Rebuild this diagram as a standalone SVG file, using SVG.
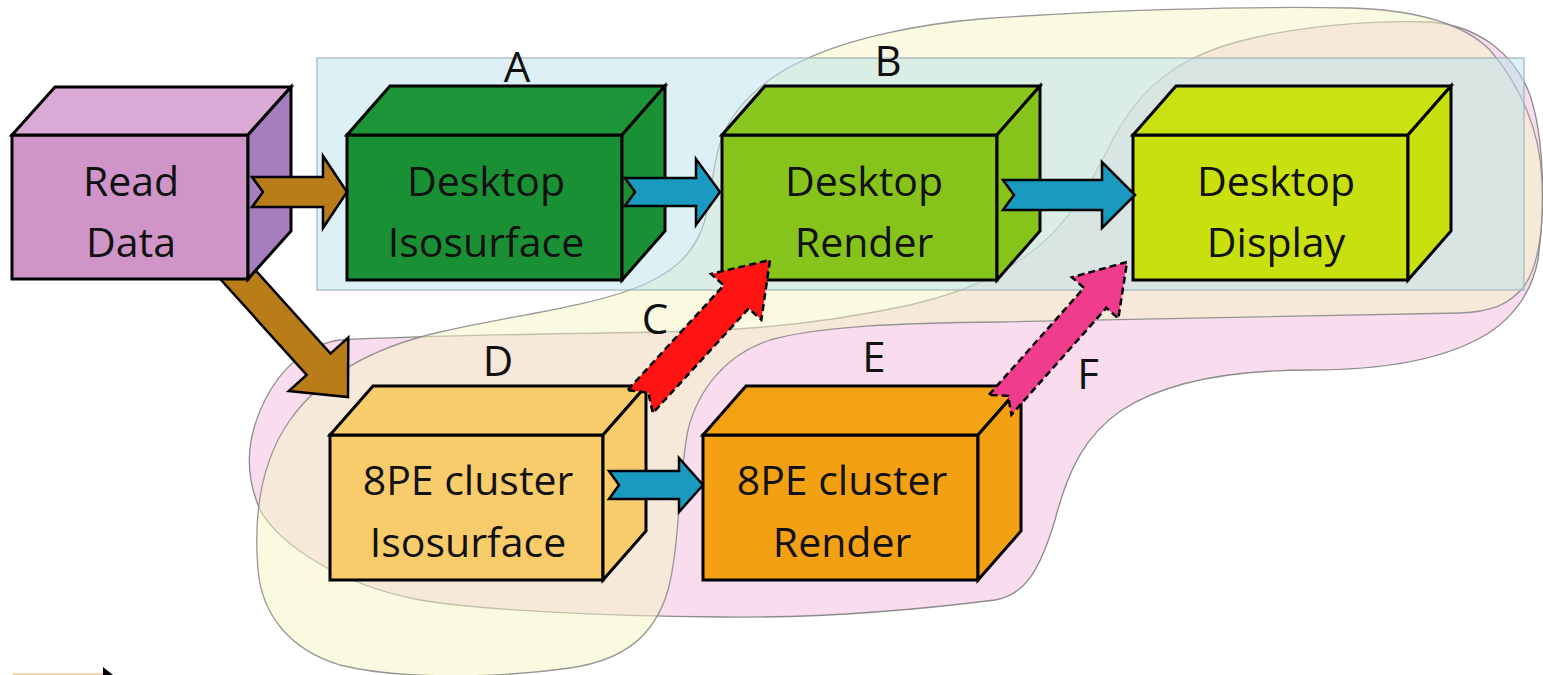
<svg xmlns="http://www.w3.org/2000/svg" width="1543" height="675" viewBox="0 0 1543 675">
<style>
.bx{stroke:#000;stroke-width:3;stroke-linejoin:miter}
.t{font-family:"Open Sans","Noto Sans","Liberation Sans",sans-serif;font-size:41px;fill:#111;text-anchor:middle}
.lb{font-family:"Open Sans","Noto Sans","Liberation Sans",sans-serif;font-size:42px;fill:#111;text-anchor:middle}
.blob{stroke:#8c8c8c;stroke-width:1.3}
.arr{stroke:#000;stroke-width:2.5;stroke-linejoin:miter}
.dash{stroke:#000;stroke-width:2.5;stroke-dasharray:7 4;stroke-linejoin:miter}
</style>
<rect x="0" y="0" width="1543" height="675" fill="#ffffff"/>
<g id="regions">
<path id="region-pink" class="blob" fill="#f9dcee" d="M340,340 C450,334 600,334 700,331 C780,328 850,318 910,305 C960,293 1000,278 1040,245 C1070,220 1090,185 1110,145 C1135,95 1170,60 1237,42 C1300,25 1380,20 1430,22 C1480,26 1515,55 1530,95 C1545,140 1545,210 1538,260 C1530,300 1505,325 1480,338 C1440,360 1380,370 1310,370 C1230,370 1165,382 1122,410 C1085,435 1068,470 1055,520 C1040,570 1025,595 995,600 C900,612 800,618 720,617 C600,616 480,610 420,600 C340,585 280,545 260,510 C245,475 245,440 265,400 C280,370 305,345 340,340 Z"/>
<path id="region-yellow" class="blob" fill="#f5f5c3" fill-opacity="0.5" stroke-opacity="0.9" d="M804,60 C850,38 920,24 980,19 C1100,10 1250,6 1350,8 C1420,10 1465,25 1490,50 C1520,85 1540,130 1542,180 C1544,225 1540,262 1525,285 C1510,305 1490,312 1460,313 C1300,317 1150,320 1000,322 C900,323 820,326 770,340 C725,355 698,390 688,430 C678,480 680,545 668,590 C655,635 625,660 570,668 C500,678 400,680 340,665 C290,650 262,615 258,570 C253,510 262,460 290,420 C320,378 370,348 440,332 C510,316 580,308 630,290 C670,276 695,255 705,220 C713,190 712,160 725,130 C740,100 770,75 804,60 Z"/>
<rect id="region-blue" x="317" y="58" width="1207" height="232" fill="#b9e1eb" fill-opacity="0.5" stroke="#9fb4bc" stroke-width="1.2"/>
</g>
<g id="labels">
<text class="lb" x="517" y="82">A</text>
<text class="lb" x="888" y="76">B</text>
<text class="lb" x="655" y="334">C</text>
<text class="lb" x="498" y="376">D</text>
<text class="lb" x="874" y="372">E</text>
<text class="lb" x="1088" y="389">F</text>
</g>
<g id="connectors-back">
<path id="arrow-read-cluster" class="arr" fill="#b87c18" transform="translate(348,397) rotate(48)" d="M-190,-16 L-44,-16 L-44,-40 L0,0 L-44,40 L-44,16 L-190,16 L-178,0 Z"/>
</g>
<g id="node-read-data">
<rect class="bx" x="12" y="135" width="236" height="144" fill="#cf95c9"/>
<polygon class="bx" points="12,135 55,87 291,87 248,135" fill="#dba9d6"/>
<polygon class="bx" points="248,135 291,87 291,231 248,279" fill="#a67dbd"/>
<text class="t" x="131" y="196">Read</text>
<text class="t" x="131" y="257">Data</text>
</g>
<g id="node-desktop-iso">
<rect class="bx" x="347" y="135" width="275" height="145" fill="#1a9035"/>
<polygon class="bx" points="347,135 390,86 665,86 622,135" fill="#1c9538"/>
<polygon class="bx" points="622,135 665,86 665,231 622,280" fill="#1a9035"/>
<text class="t" x="486" y="196">Desktop</text>
<text class="t" x="486" y="257">Isosurface</text>
</g>
<g id="node-desktop-render">
<rect class="bx" x="722" y="135" width="275" height="145" fill="#86c41c"/>
<polygon class="bx" points="722,135 765,86 1040,86 997,135" fill="#89c61e"/>
<polygon class="bx" points="997,135 1040,86 1040,231 997,280" fill="#86c41c"/>
<text class="t" x="864" y="196">Desktop</text>
<text class="t" x="864" y="257">Render</text>
</g>
<g id="node-desktop-display">
<rect class="bx" x="1133" y="135" width="275" height="145" fill="#c8e00e"/>
<polygon class="bx" points="1133,135 1176,86 1451,86 1408,135" fill="#c9e111"/>
<polygon class="bx" points="1408,135 1451,86 1451,231 1408,280" fill="#c8e00e"/>
<text class="t" x="1276" y="196">Desktop</text>
<text class="t" x="1276" y="257">Display</text>
</g>
<g id="node-cluster-iso">
<rect class="bx" x="330" y="435" width="273" height="145" fill="#f8cc6b"/>
<polygon class="bx" points="330,435 373,386 646,386 603,435" fill="#f8cd6d"/>
<polygon class="bx" points="603,435 646,386 646,531 603,580" fill="#f8cc6b"/>
<text class="t" x="468" y="495">8PE cluster</text>
<text class="t" x="468" y="557">Isosurface</text>
</g>
<g id="node-cluster-render">
<rect class="bx" x="703" y="435" width="275" height="145" fill="#f3a012"/>
<polygon class="bx" points="703,435 746,386 1021,386 978,435" fill="#f3a214"/>
<polygon class="bx" points="978,435 1021,386 1021,531 978,580" fill="#f3a012"/>
<text class="t" x="842" y="495">8PE cluster</text>
<text class="t" x="842" y="557">Render</text>
</g>
<g id="connectors">
<path id="arrow-read-iso" class="arr" fill="#b87c18" transform="translate(252,192)" d="M0,-15 L71,-15 L71,-36 L95,0 L71,36 L71,15 L0,15 L11,0 Z"/>
<path id="arrow-iso-render" class="arr" fill="#1a9ac0" transform="translate(625,192)" d="M0,-14 L71,-14 L71,-33 L95,0 L71,33 L71,14 L0,14 L10,0 Z"/>
<path id="arrow-render-display" class="arr" fill="#1a9ac0" transform="translate(1003,195)" d="M0,-15 L99,-15 L99,-33 L132,0 L99,33 L99,15 L0,15 L11,0 Z"/>
<path id="arrow-cluster-iso-render" class="arr" fill="#1a9ac0" transform="translate(609,485)" d="M0,-14 L70,-14 L70,-27 L94,0 L70,27 L70,14 L0,14 L10,0 Z"/>
<path id="arrow-C" class="dash" fill="#ff1414" transform="translate(770,260) rotate(-47.5)" d="M-192,-17 L-50,-17 L-50,-34 L0,0 L-50,34 L-50,17 L-192,17 L-180,0 Z"/>
<path id="arrow-F" class="dash" fill="#f03c8c" transform="translate(1127,262) rotate(-48.4)" d="M-191,-15 L-48,-15 L-48,-31 L0,0 L-48,31 L-48,15 L-191,15 L-179,0 Z"/>
<line x1="13" y1="674" x2="104" y2="674" stroke="#f2d6ae" stroke-width="2"/>
<polygon points="103,667 113,675 103,675" fill="#000"/>
</g>
</svg>
